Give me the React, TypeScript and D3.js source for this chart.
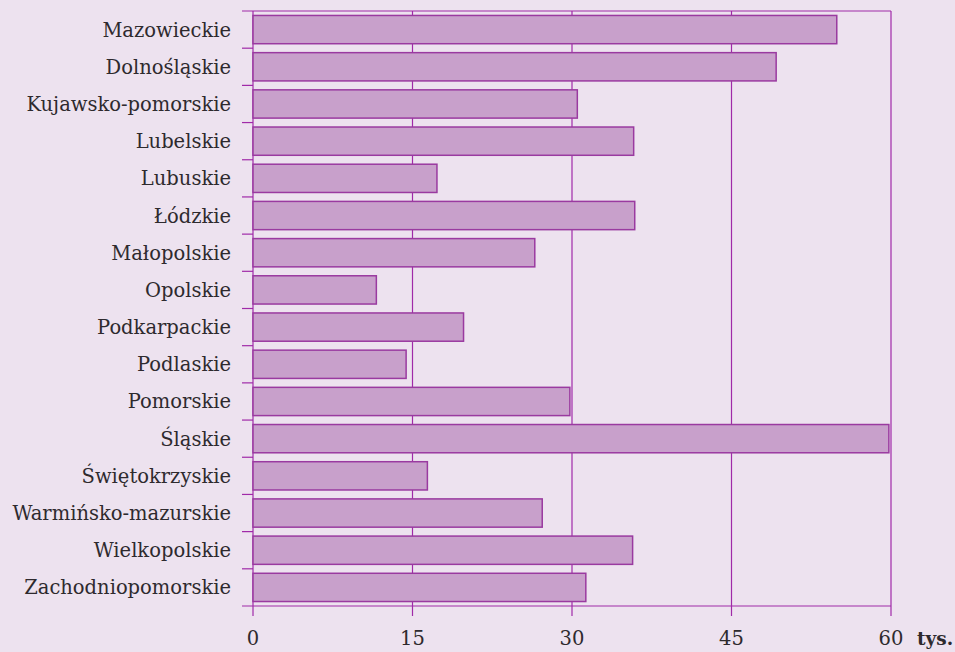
import React from "react";
import * as d3 from "d3";

const categories = [
  "Mazowieckie", "Dolnośląskie", "Kujawsko-pomorskie", "Lubelskie", "Lubuskie",
  "Łódzkie", "Małopolskie", "Opolskie", "Podkarpackie", "Podlaskie", "Pomorskie",
  "Śląskie", "Świętokrzyskie", "Warmińsko-mazurskie", "Wielkopolskie", "Zachodniopomorskie",
];
const values = [54.9, 49.2, 30.5, 35.8, 17.3, 35.9, 26.5, 11.6, 19.8, 14.4, 29.8, 59.8, 16.4, 27.2, 35.7, 31.3];
const xTicks = [0, 15, 30, 45, 60];
const unitLabel = "tys.";

const W = 955, H = 652;
const M = { left: 253, right: 891, top: 11, bottom: 606 };
const BG = "#ede2ef";
const LINE = "#a02aa8";
const BAR_FILL = "#c8a0cb";
const BAR_STROKE = "#9a3aa0";
const FONT = "DejaVu Serif";
const TEXT = "#2e2a2e";

export default function App() {
  const x = d3.scaleLinear().domain([0, 60]).range([M.left, M.right]);
  const y = d3.scaleBand<string>().domain(categories).range([M.top, M.bottom]).paddingInner(0.24).paddingOuter(0.12);
  const step = y.step();
  const boundaries = d3.range(categories.length + 1).map((i) => M.top + i * step);

  return (
    <svg width={W} height={H} style={{ position: "absolute", left: 0, top: 0, background: BG }}>
      <rect x={0} y={0} width={W} height={H} fill={BG} />
      {xTicks.slice(1).map((t) => (
        <line key={t} x1={x(t)} x2={x(t)} y1={M.top} y2={M.bottom + 10} stroke={LINE} strokeWidth={1.2} />
      ))}
      <line x1={M.left} x2={M.left} y1={M.top} y2={M.bottom + 10} stroke={LINE} strokeWidth={1.2} />
      {boundaries.map((b, i) => (
        <line key={i} x1={M.left - 11} x2={i === 0 || i === categories.length ? M.right : M.left} y1={b} y2={b} stroke={LINE} strokeWidth={1.2} />
      ))}
      {categories.map((c, i) => (
        <rect key={c} x={x(0)} y={y(c)!} width={x(values[i]) - x(0)} height={y.bandwidth()} fill={BAR_FILL} stroke={BAR_STROKE} strokeWidth={1.5} />
      ))}
      {categories.map((c) => (
        <text key={c} x={M.left - 22} y={y(c)! + y.bandwidth() / 2} dy="0.36em" textAnchor="end" fontFamily={FONT} fontSize={19.5} fill={TEXT}>
          {c}
        </text>
      ))}
      {xTicks.map((t) => (
        <text key={t} x={x(t)} y={645} textAnchor="middle" fontFamily={FONT} fontSize={19.5} fill={TEXT}>
          {t}
        </text>
      ))}
      <text x={x(60) + 26} y={645} fontFamily={FONT} fontSize={18.5} fontWeight="bold" fill={TEXT}>
        {unitLabel}
      </text>
    </svg>
  );
}
